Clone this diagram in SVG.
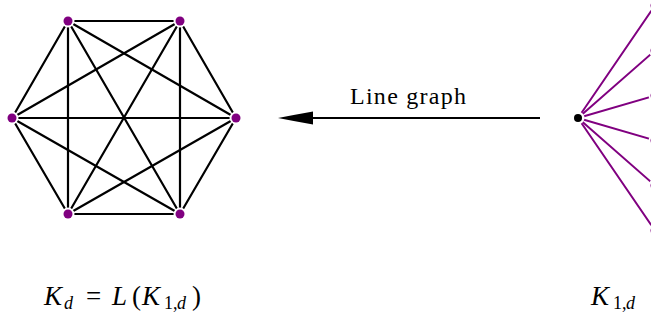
<svg xmlns="http://www.w3.org/2000/svg" width="651" height="322" viewBox="0 0 651 322">
<style>
.e{stroke:#000;stroke-width:2.2;stroke-linecap:round}
.s{stroke:#800080;stroke-width:2;stroke-linecap:round}
.v{fill:#800080;stroke:#fff;stroke-width:4;paint-order:stroke}
.c{fill:#000;stroke:#fff;stroke-width:5;paint-order:stroke}
.t{font-family:'Liberation Serif','Times New Roman',serif;fill:#000}
.i{font-style:italic}
</style>
<rect width="651" height="322" fill="#fff"/>
<g id="connectors">
<line class="e" x1="68" y1="21" x2="180" y2="21"/>
<line class="e" x1="68" y1="21" x2="236" y2="118"/>
<line class="e" x1="68" y1="21" x2="180" y2="214"/>
<line class="e" x1="68" y1="21" x2="68" y2="214"/>
<line class="e" x1="68" y1="21" x2="12" y2="118"/>
<line class="e" x1="180" y1="21" x2="236" y2="118"/>
<line class="e" x1="180" y1="21" x2="180" y2="214"/>
<line class="e" x1="180" y1="21" x2="68" y2="214"/>
<line class="e" x1="180" y1="21" x2="12" y2="118"/>
<line class="e" x1="236" y1="118" x2="180" y2="214"/>
<line class="e" x1="236" y1="118" x2="68" y2="214"/>
<line class="e" x1="236" y1="118" x2="12" y2="118"/>
<line class="e" x1="180" y1="214" x2="68" y2="214"/>
<line class="e" x1="180" y1="214" x2="12" y2="118"/>
<line class="e" x1="68" y1="214" x2="12" y2="118"/>
<line class="s" x1="578" y1="118" x2="655" y2="5.5"/>
<line class="s" x1="578" y1="118" x2="655" y2="50.5"/>
<line class="s" x1="578" y1="118" x2="655" y2="95.5"/>
<line class="s" x1="578" y1="118" x2="655" y2="140.5"/>
<line class="s" x1="578" y1="118" x2="655" y2="185.5"/>
<line class="s" x1="578" y1="118" x2="655" y2="230.5"/>
<g id="arrow">
<line x1="540" y1="118" x2="305" y2="118" stroke="#000" stroke-width="2"/>
<path d="M278,118 Q296,114.5 313,111.5 L313,124.5 Q296,121.5 278,118 Z" fill="#000"/>
</g>
</g>
<g id="kd-nodes">
<g id="v1"><circle class="v" cx="68" cy="21" r="4.5"/></g>
<g id="v2"><circle class="v" cx="180" cy="21" r="4.5"/></g>
<g id="v3"><circle class="v" cx="236" cy="118" r="4.5"/></g>
<g id="v4"><circle class="v" cx="180" cy="214" r="4.5"/></g>
<g id="v5"><circle class="v" cx="68" cy="214" r="4.5"/></g>
<g id="v6"><circle class="v" cx="12" cy="118" r="4.5"/></g>
</g>
<g id="star-nodes">
<g id="center"><circle class="c" cx="578" cy="118" r="4"/></g>
<g id="l1"><circle class="v" cx="655" cy="5.5" r="4.5"/></g>
<g id="l2"><circle class="v" cx="655" cy="50.5" r="4.5"/></g>
<g id="l3"><circle class="v" cx="655" cy="95.5" r="4.5"/></g>
<g id="l4"><circle class="v" cx="655" cy="140.5" r="4.5"/></g>
<g id="l5"><circle class="v" cx="655" cy="185.5" r="4.5"/></g>
<g id="l6"><circle class="v" cx="655" cy="230.5" r="4.5"/></g>
</g>
<g id="labels">
<text id="arrow-label" class="t" font-family="Liberation Serif, serif" x="350" y="104" font-size="24" textLength="116" lengthAdjust="spacing">Line graph</text>
<text id="left-label" class="t" font-family="Liberation Serif, serif" font-size="27"><tspan class="i" x="44" y="305">K</tspan><tspan class="i" x="64" y="308.5" font-size="18">d</tspan><tspan x="86" y="305">=</tspan><tspan class="i" x="112" y="305">L</tspan><tspan x="132" y="305">(</tspan><tspan class="i" x="142" y="305">K</tspan><tspan x="164" y="308.5" font-size="18">1,</tspan><tspan class="i" x="177" y="308.5" font-size="18">d</tspan><tspan x="192" y="305">)</tspan></text>
<text id="right-label" class="t" font-family="Liberation Serif, serif" font-size="27"><tspan class="i" x="591" y="305">K</tspan><tspan x="613" y="308.5" font-size="18">1,</tspan><tspan class="i" x="626" y="308.5" font-size="18">d</tspan></text>
</g>
</svg>
